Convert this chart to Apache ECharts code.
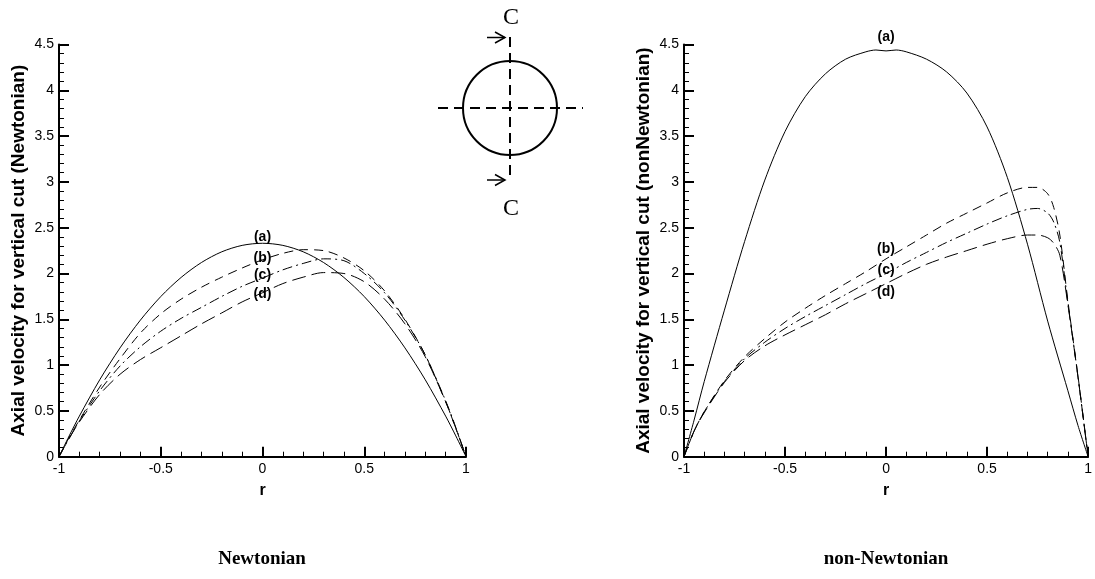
<!DOCTYPE html>
<html>
<head>
<meta charset="utf-8">
<script src="https://cdn.jsdelivr.net/npm/echarts@6/dist/echarts.min.js"></script>
<style>
html,body{margin:0;padding:0;background:#fff;}
#chart{width:1095px;height:579px;}
</style>
</head>
<body>
<div id="chart"></div>
<script>
// ---------- data ----------
const rLeft = [-1,-0.95,-0.9,-0.8,-0.7,-0.6,-0.5,-0.4,-0.3,-0.2,-0.1,0,0.1,0.2,0.3,0.4,0.5,0.6,0.7,0.8,0.9,0.95,1];
const newtA = [0,0.227,0.443,0.839,1.188,1.491,1.748,1.957,2.12,2.237,2.307,2.33,2.307,2.237,2.12,1.957,1.748,1.491,1.188,0.839,0.443,0.227,0];
const newtB = [0,0.21,0.40,0.76,1.07,1.35,1.56,1.72,1.85,1.96,2.06,2.15,2.22,2.26,2.25,2.17,2.03,1.81,1.50,1.11,0.60,0.31,0];
const newtC = [0,0.20,0.39,0.72,0.99,1.20,1.37,1.51,1.63,1.75,1.86,1.95,2.04,2.11,2.16,2.14,2.00,1.79,1.49,1.11,0.61,0.32,0];
const newtD = [0,0.20,0.38,0.68,0.90,1.06,1.19,1.32,1.45,1.57,1.69,1.79,1.89,1.96,2.01,2.00,1.91,1.72,1.45,1.09,0.60,0.31,0];

const rRightA = [-1,-0.95,-0.9,-0.8,-0.7,-0.6,-0.5,-0.4,-0.3,-0.2,-0.1,-0.05,0,0.05,0.1,0.2,0.3,0.4,0.5,0.6,0.7,0.8,0.9,0.95,1];
const nonA = [0,0.40,0.82,1.60,2.35,3.02,3.55,3.93,4.18,4.34,4.42,4.44,4.43,4.44,4.42,4.34,4.20,3.97,3.60,3.05,2.32,1.48,0.72,0.34,0];
const rRight = [-1,-0.95,-0.9,-0.8,-0.7,-0.6,-0.5,-0.4,-0.3,-0.2,-0.1,0,0.1,0.2,0.3,0.4,0.5,0.6,0.7,0.75,0.8,0.83,0.86,0.9,0.95,1];
const nonB = [0,0.28,0.49,0.83,1.09,1.29,1.47,1.62,1.76,1.89,2.02,2.16,2.29,2.42,2.55,2.66,2.77,2.88,2.94,2.94,2.87,2.72,2.42,1.70,0.88,0];
const nonC = [0,0.28,0.49,0.82,1.07,1.25,1.40,1.53,1.65,1.77,1.89,2.00,2.12,2.23,2.34,2.44,2.54,2.63,2.70,2.71,2.66,2.56,2.34,1.68,0.87,0];
const nonD = [0,0.28,0.48,0.81,1.05,1.21,1.33,1.44,1.55,1.67,1.78,1.89,2.00,2.10,2.18,2.25,2.32,2.38,2.42,2.42,2.39,2.33,2.20,1.66,0.87,0];

const curveLabels = ['(a)','(b)','(c)','(d)'];
const labelR = 0;
const newtLabelV = [2.40,2.17,1.98,1.78];
const nonLabelV = [4.58,2.27,2.04,1.80];

const yTitles = ['Axial velocity for vertical cut (Newtonian)','Axial velocity for vertical cut (nonNewtonian)'];
const xTitle = 'r';
const panelTitles = ['Newtonian','non-Newtonian'];
const sectionMark = 'C';

// ---------- chart ----------
const pair = (xs, ys) => xs.map((x,i)=>[x, ys[i]]);
const SANS = 'Liberation Sans';
const SERIF = 'Liberation Serif';

const dashes = { a:'solid', b:[9,6], c:[10,4,2,4], d:[14,6] };

function axisCommon(){
  return {
    axisLine:{show:true,onZero:false,lineStyle:{color:'#000',width:2}},
    axisTick:{show:true,inside:true,length:10,lineStyle:{color:'#000',width:2}},
    minorTick:{show:true,splitNumber:5,length:5,lineStyle:{color:'#000',width:1}},
    axisLabel:{fontFamily:SANS,fontSize:14,color:'#000',margin:5},
    splitLine:{show:false}, minorSplitLine:{show:false}
  };
}
function mkX(idx){
  return Object.assign({
    gridIndex: idx, type:'value', min:-1, max:1, interval:0.5,
    name: xTitle, nameLocation:'middle', nameGap:26,
    nameTextStyle:{fontFamily:SANS,fontWeight:'bold',fontSize:16,color:'#000'}
  }, axisCommon());
}
function mkY(idx){
  return Object.assign({
    gridIndex: idx, type:'value', min:0, max:4.5, interval:0.5,
    name: yTitles[idx], nameLocation:'middle', nameGap:31, nameRotate:90,
    nameTextStyle:{fontFamily:SANS,fontWeight:'bold',fontSize:19,color:'#000'}
  }, axisCommon());
}
function line(idx, data, type){
  return {
    type:'line', xAxisIndex:idx, yAxisIndex:idx, data:data,
    showSymbol:false, symbol:'none', smooth:0.3, silent:true,
    lineStyle:{color:'#000',width:1,type:type},
    z:3
  };
}
function labels(idx, vals){
  return {
    type:'scatter', xAxisIndex:idx, yAxisIndex:idx, silent:true, clip:false,
    symbolSize:1, itemStyle:{color:'rgba(0,0,0,0)'},
    data: vals.map((v,i)=>[labelR, v, curveLabels[i]]),
    label:{show:true, position:'inside', formatter:p=>p.data[2],
      fontFamily:SANS, fontWeight:'bold', fontSize:14, color:'#000',
      textBorderWidth:0, opacity:1},
    z:5
  };
}
function txt(x, y, text, size, family, weight){
  return {type:'text', x:x, y:y, silent:true,
    style:{text:text, fontSize:size, fontFamily:family, fontWeight:weight, fill:'#000',
      textAlign:'center', textVerticalAlign:'middle'}};
}

const chart = echarts.init(document.getElementById('chart'), null, {renderer:'canvas'});
const dx = 510, dy = 108;
chart.setOption({
  animation:false,
  backgroundColor:'#fff',
  grid:[
    {left:59, right:629, top:44.5, bottom:122.3, containLabel:false},
    {left:684, right:4, top:44.5, bottom:122.3, containLabel:false}
  ],
  xAxis:[mkX(0), mkX(1)],
  yAxis:[mkY(0), mkY(1)],
  series:[
    line(0, pair(rLeft,newtA), dashes.a),
    line(0, pair(rLeft,newtB), dashes.b),
    line(0, pair(rLeft,newtC), dashes.c),
    line(0, pair(rLeft,newtD), dashes.d),
    labels(0, newtLabelV),
    line(1, pair(rRightA,nonA), dashes.a),
    line(1, pair(rRight,nonB), dashes.b),
    line(1, pair(rRight,nonC), dashes.c),
    line(1, pair(rRight,nonD), dashes.d),
    labels(1, nonLabelV)
  ],
  graphic:[
    txt(262, 559, panelTitles[0], 19, SERIF, 'bold'),
    txt(886, 559, panelTitles[1], 19, SERIF, 'bold'),
    {type:'circle', silent:true, shape:{cx:dx, cy:dy, r:47}, style:{fill:'none', stroke:'#000', lineWidth:2}},
    {type:'line', silent:true, shape:{x1:438, y1:dy, x2:583, y2:dy}, style:{stroke:'#000', lineWidth:2, lineDash:[10,6]}},
    {type:'line', silent:true, shape:{x1:dx, y1:37, x2:dx, y2:180}, style:{stroke:'#000', lineWidth:2, lineDash:[10,6]}},
    {type:'line', silent:true, shape:{x1:487, y1:37.5, x2:505, y2:37.5}, style:{stroke:'#000', lineWidth:1.5}},
    {type:'polyline', silent:true, shape:{points:[[495,32],[505,37.5],[495,43]]}, style:{stroke:'#000', lineWidth:1.5, fill:'none'}},
    {type:'line', silent:true, shape:{x1:487, y1:180, x2:505, y2:180}, style:{stroke:'#000', lineWidth:1.5}},
    {type:'polyline', silent:true, shape:{points:[[495,174.5],[505,180],[495,185.5]]}, style:{stroke:'#000', lineWidth:1.5, fill:'none'}},
    txt(511, 18, sectionMark, 24, SERIF, 'normal'),
    txt(511, 209, sectionMark, 24, SERIF, 'normal')
  ]
});
</script>
</body>
</html>
